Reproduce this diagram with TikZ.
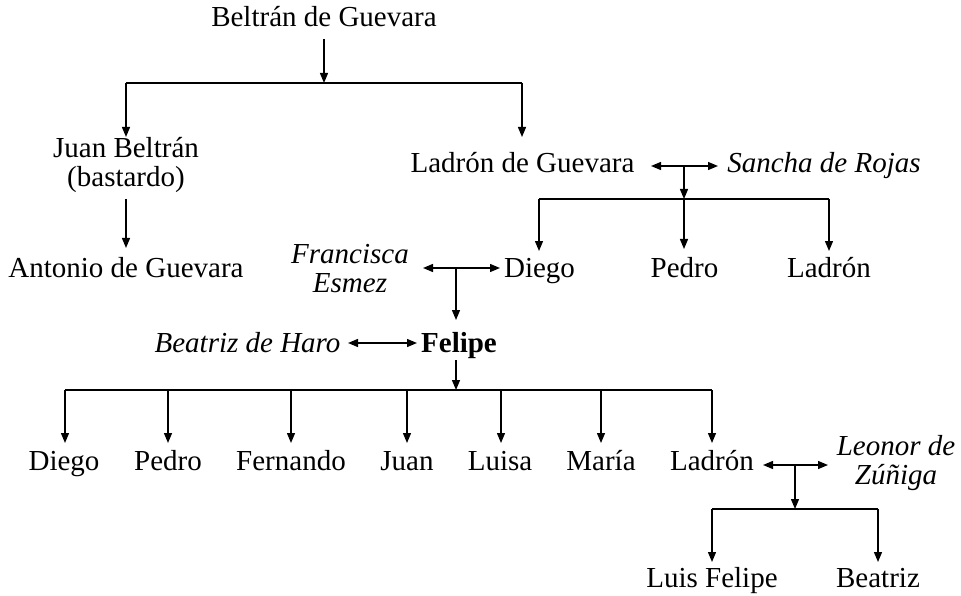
\documentclass[tikz,border=0pt]{standalone}
\usepackage{fontspec}
\setmainfont{Liberation Serif}
\usetikzlibrary{arrows.meta}
\newcommand{\twoline}[2]{\begin{tabular}[t]{@{}c@{}}#1\\#2\end{tabular}}
\begin{document}
\begin{tikzpicture}[x=1pt,y=-1pt,
  person/.style={anchor=base,inner sep=0pt,font=\fontsize{29}{29}\selectfont},
  spouse/.style={anchor=base,inner sep=0pt,font=\fontsize{29}{29}\selectfont\itshape},
  hero/.style={anchor=base,inner sep=0pt,font=\fontsize{29}{29}\selectfont\bfseries},
  arr/.style={-{Triangle[length=10pt,width=8pt]},line width=1.3pt},
  dbl/.style={{Triangle[length=10pt,width=8pt]}-{Triangle[length=10pt,width=8pt]},line width=1.3pt},
  ln/.style={line width=1.3pt}]
\useasboundingbox (0,0) rectangle (961,596);
% people
\node[person] (beltran) at (324,27) {Beltrán de Guevara};
\node[person] (juanb) at (126,158) {\twoline{Juan Beltrán}{(bastardo)}};
\node[person] (antonio) at (126,277) {Antonio de Guevara};
\node[person] (ladron) at (522.5,173) {Ladrón de Guevara};
\node[spouse] (sancha) at (824,173) {Sancha de Rojas};
\node[spouse] (francisca) at (350,263) {\twoline{Francisca}{Esmez}};
\node[person] (diego1) at (539.5,277) {Diego};
\node[person] (pedro1) at (684.5,277) {Pedro};
\node[person] (ladron1) at (829,277) {Ladrón};
\node[spouse] (beatrizh) at (247.5,352) {Beatriz de Haro};
\node[hero] (felipe) at (459,352) {Felipe};
\node[person] (diego2) at (64,470) {Diego};
\node[person] (pedro2) at (168,470) {Pedro};
\node[person] (fernando) at (291,470) {Fernando};
\node[person] (juan2) at (407,470) {Juan};
\node[person] (luisa) at (500,470) {Luisa};
\node[person] (maria) at (601,470) {María};
\node[person] (ladron2) at (712,470) {Ladrón};
\node[spouse] (leonor) at (896,455) {\twoline{Leonor de}{Zúñiga}};
\node[person] (luisf) at (712,587) {Luis Felipe};
\node[person] (beatriz) at (878,587) {Beatriz};
% junction coordinates
\coordinate (b0) at (324,39);
\coordinate (jB) at (324,83);
\coordinate (jBl) at (126,83);
\coordinate (jBr) at (522,83);
\coordinate (tJuan) at (126,137);
\coordinate (tLad) at (522,137);
\coordinate (sJuan) at (126,199);
\coordinate (tAnt) at (126,248);
\coordinate (mLl) at (651,166);
\coordinate (mLr) at (718,166);
\coordinate (mL) at (684,166);
\coordinate (jL) at (684,199);
\coordinate (jLl) at (539,199);
\coordinate (jLr) at (829,199);
\coordinate (mFl) at (423,268);
\coordinate (mFr) at (500,268);
\coordinate (mF) at (456,268);
\coordinate (tFel) at (456,320);
\coordinate (mHl) at (348,343);
\coordinate (mHr) at (417,343);
\coordinate (sFel) at (456,360);
\coordinate (jF) at (456,390);
\coordinate (jFl) at (65,390);
\coordinate (jFr) at (712,390);
\coordinate (mNl) at (763,465);
\coordinate (mNr) at (828,465);
\coordinate (mN) at (795,465);
\coordinate (jN) at (795,509);
\coordinate (jNl) at (712,509);
\coordinate (jNr) at (878,509);
% Beltrán de Guevara
\draw[arr] (b0) -- (jB);
\draw[ln] (jBl) -- (jBr);
\draw[arr] (jBl) -- (tJuan);
\draw[arr] (jBr) -- (tLad);
\draw[arr] (sJuan) -- (tAnt);
% Ladrón – Sancha
\draw[dbl] (mLl) -- (mLr);
\draw[arr] (mL) -- (jL);
\draw[ln] (jLl) -- (jLr);
\draw[arr] (jLl) -- (539,251);
\draw[arr] (jL) -- (684,249);
\draw[arr] (jLr) -- (829,251);
% Francisca – Diego
\draw[dbl] (mFl) -- (mFr);
\draw[arr] (mF) -- (tFel);
% Beatriz – Felipe
\draw[dbl] (mHl) -- (mHr);
\draw[arr] (sFel) -- (jF);
\draw[ln] (jFl) -- (jFr);
\foreach \x in {65,168,291,407,501,601,712}
  \draw[arr] (\x,390) -- (\x,443);
% Ladrón – Leonor
\draw[dbl] (mNl) -- (mNr);
\draw[arr] (mN) -- (jN);
\draw[ln] (jNl) -- (jNr);
\draw[arr] (jNl) -- (712,562);
\draw[arr] (jNr) -- (878,562);
\end{tikzpicture}
\end{document}
